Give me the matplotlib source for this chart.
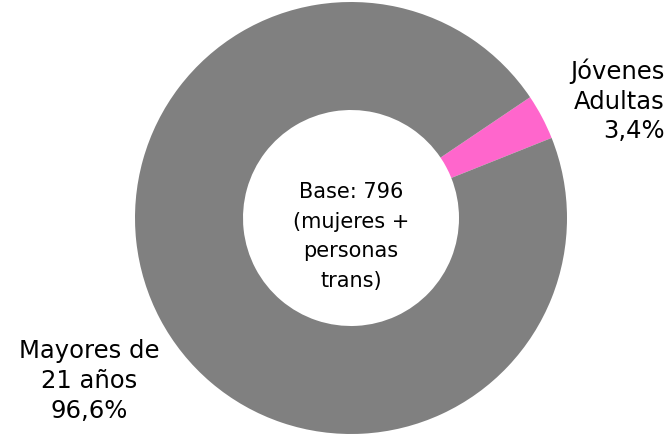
import matplotlib
matplotlib.use("Agg")
import matplotlib.pyplot as plt

# data
labels = ["Jóvenes\nAdultas", "Mayores de\n21 años"]
values = [3.4, 96.6]
colors = ["#FF66CC", "#808080"]
center_text = "Base: 796\n(mujeres +\npersonas\ntrans)"

plt.rcParams['font.family'] = ['DejaVu Sans']

W, H = 671, 446
fig = plt.figure(figsize=(W / 100, H / 100), dpi=100)

# donut centre at (351, 218) px from top, radius 216 px
cx, cy, r = 351, 218, 216
ax = fig.add_axes([(cx - r) / W, (H - cy - r) / H, 2 * r / W, 2 * r / H])
ax.pie(values, colors=colors, startangle=34, counterclock=False,
       radius=1, wedgeprops=dict(width=0.5, edgecolor="none"))
ax.set_xlim(-1, 1)
ax.set_ylim(-1, 1)
ax.set_aspect("equal")
ax.axis("off")

ax.text(0, -0.085, center_text, ha="center", va="center", fontsize=15,
        linespacing=1.6, color="#000000")


def pct(v):
    return f"{v:.1f}".replace(".", ",") + "%"


fig.text(665 / W, 1 - 101 / H, labels[0] + "\n" + pct(values[0]),
         ha="right", va="center", fontsize=17.5, linespacing=1.3, multialignment="right")
fig.text(89 / W, 1 - 381 / H, labels[1] + "\n" + pct(values[1]),
         ha="center", va="center", fontsize=17.5, linespacing=1.3, multialignment="center")

fig.savefig("out.png", dpi=100)
